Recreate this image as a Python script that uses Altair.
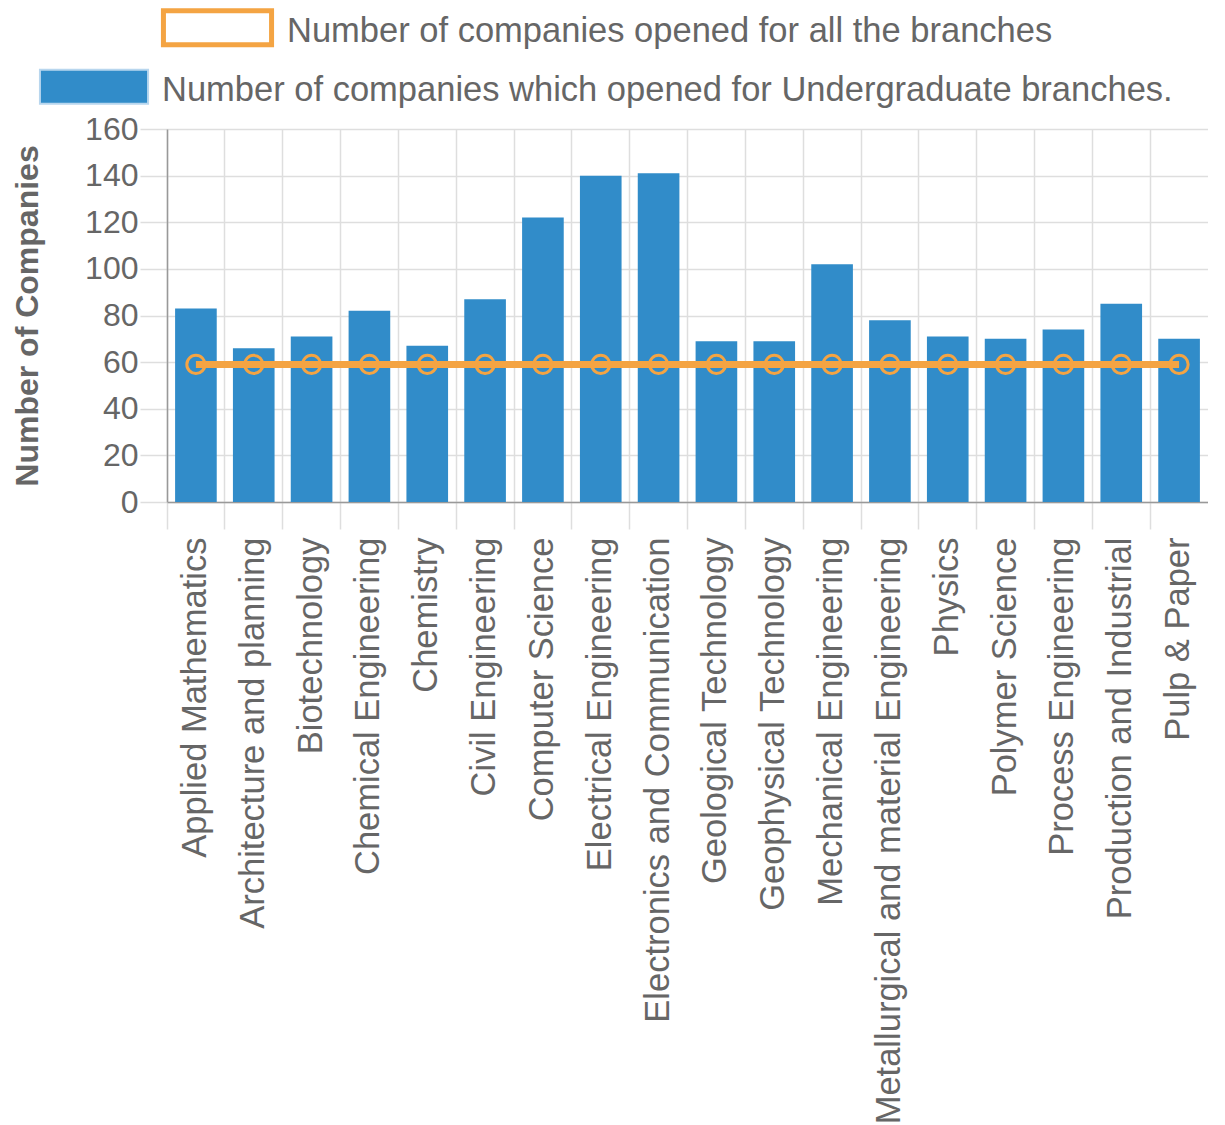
import altair as alt
import pandas as pd

branches = [
    "Applied Mathematics", "Architecture and planning", "Biotechnology",
    "Chemical Engineering", "Chemistry", "Civil Engineering", "Computer Science",
    "Electrical Engineering", "Electronics and Communication", "Geological Technology",
    "Geophysical Technology", "Mechanical Engineering",
    "Metallurgical and material Engineering", "Physics", "Polymer Science",
    "Process Engineering", "Production and Industrial", "Pulp & Paper",
]
ug_companies = [83, 66, 71, 82, 67, 87, 122, 140, 141, 69, 69, 102, 78, 71, 70, 74, 85, 70]
all_companies = [59, 59, 59, 59, 59, 59, 59, 59, 59, 59, 59, 59, 59, 59, 59, 59, 59, 59]

LBL_ALL = "Number of companies opened for all the branches"
LBL_UG = "Number of companies which opened for Undergraduate branches."
BLUE = "#318cc9"
ORANGE = "#f4a443"
GRID = "#dedede"
TXT = "#666666"
FONT = "Liberation Sans"

df = pd.DataFrame({
    "branch": branches,
    "ug": ug_companies,
    "all": all_companies,
    "s_ug": [LBL_UG] * len(branches),
    "s_all": [LBL_ALL] * len(branches),
})

# wide rectangle symbol (slightly raised relative to its label)
rect_path = "M-3.18,-1.25L3.18,-1.25L3.18,0.75L-3.18,0.75Z"

x_enc = alt.X(
    "branch:N", sort=branches, title=None,
    scale=alt.Scale(paddingInner=0, paddingOuter=0),
    axis=alt.Axis(
        labelAngle=-90, labelAlign="right", labelBaseline="middle",
        labelFontSize=34.5, labelColor=TXT, labelFont=FONT, labelLimit=1000,
        labelPadding=8, tickSize=27, tickColor=GRID, tickWidth=1.5,
        grid=True, gridColor=GRID, gridWidth=1.5, bandPosition=0,
        domainColor="#999999", domainWidth=1.5,
    ),
)

bars = alt.Chart(df).mark_bar(width=alt.RelativeBandSize(0.72)).encode(
    x=x_enc,
    y=alt.Y(
        "ug:Q", title="Number of Companies",
        scale=alt.Scale(domain=[0, 160], nice=False),
        axis=alt.Axis(
            values=[0, 20, 40, 60, 80, 100, 120, 140, 160],
            labelFontSize=32, labelColor=TXT, labelFont=FONT, labelPadding=2,
            tickSize=27, tickColor=GRID, tickWidth=1.5,
            gridColor=GRID, gridWidth=1.5,
            domainColor="#999999", domainWidth=1.5,
            titleFontSize=32, titleFont=FONT, titleColor=TXT, titleFontWeight="bold",
            titlePadding=40,
        ),
    ),
    fill=alt.Fill(
        "s_ug:N",
        scale=alt.Scale(domain=[LBL_UG], range=[BLUE]),
        legend=alt.Legend(
            title=None, orient="none", legendX=-91, legendY=-56,
            symbolType=rect_path, symbolSize=1156, symbolStrokeColor="#b8d6ee",
            symbolStrokeWidth=2, symbolOpacity=1,
            labelFontSize=34.5, labelFont=FONT, labelColor=TXT, labelLimit=1200,
            labelOffset=50, padding=0,
        ),
    ),
)

line = alt.Chart(df).mark_line(strokeWidth=7).encode(
    x=alt.X("branch:N", sort=branches),
    y=alt.Y("all:Q"),
    stroke=alt.Stroke(
        "s_all:N",
        scale=alt.Scale(domain=[LBL_ALL], range=[ORANGE]),
        legend=alt.Legend(
            title=None, orient="none", legendX=31, legendY=-116.5,
            symbolType=rect_path, symbolSize=1156, symbolStrokeWidth=5,
            symbolFillColor="white", symbolOpacity=1,
            labelFontSize=34.5, labelFont=FONT, labelColor=TXT, labelLimit=1200,
            labelOffset=50, padding=0,
        ),
    ),
)

pts = alt.Chart(df).mark_point(
    shape="circle", filled=False, size=330, strokeWidth=3, color=ORANGE, opacity=1
).encode(
    x=alt.X("branch:N", sort=branches),
    y=alt.Y("all:Q"),
)

chart = alt.layer(bars, line, pts).properties(
    width=1041, height=373, padding={"left": 3, "top": 4, "right": 0, "bottom": 0}
).configure_view(stroke=None).configure_axis(gridOpacity=1)

chart.save("out.html", embed_options={"renderer": "svg", "actions": False})
